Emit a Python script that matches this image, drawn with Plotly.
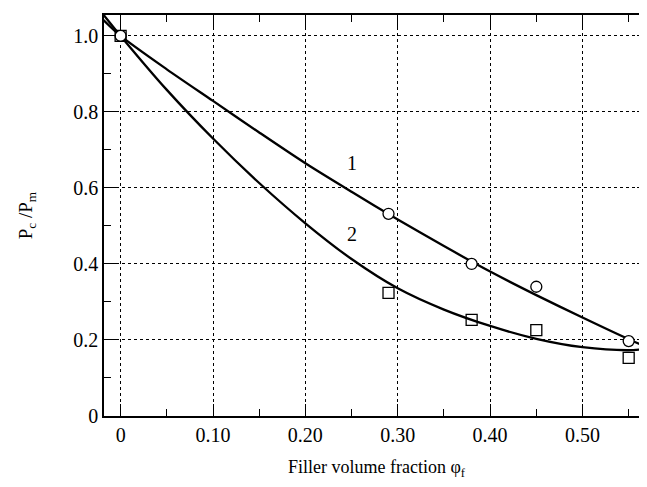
import plotly.graph_objects as go

# Data
circle_x = [0.0, 0.29, 0.38, 0.45, 0.55]
circle_y = [1.0, 0.532, 0.40, 0.34, 0.197]
square_x = [0.0, 0.29, 0.38, 0.45, 0.55]
square_y = [1.0, 0.324, 0.253, 0.226, 0.153]

curve1_x = [-0.02, 0.0, 0.05, 0.10, 0.15, 0.20, 0.25, 0.30, 0.35, 0.40, 0.45, 0.50, 0.55, 0.575]
curve1_y = [1.045, 1.0, 0.912, 0.829, 0.746, 0.665, 0.590, 0.517, 0.447, 0.380, 0.318, 0.259, 0.202, 0.176]
curve2_x = [-0.02, 0.0, 0.05, 0.10, 0.15, 0.20, 0.25, 0.30, 0.35, 0.40, 0.45, 0.50, 0.55, 0.575]
curve2_y = [1.060, 1.0, 0.858, 0.730, 0.613, 0.507, 0.413, 0.336, 0.280, 0.237, 0.203, 0.181, 0.173, 0.178]

x_tickvals = [0, 0.1, 0.2, 0.3, 0.4, 0.5]
x_ticktext = ["0", "0.10", "0.20", "0.30", "0.40", "0.50"]
y_tickvals = [0, 0.2, 0.4, 0.6, 0.8, 1.0]
y_ticktext = ["0", "0.2", "0.4", "0.6", "0.8", "1.0"]

curve_labels = ["1", "2"]
label_x = [0.25, 0.251]
label_y = [0.666, 0.48]

FONT = "Liberation Serif"

fig = go.Figure()
for cx, cy in ((curve1_x, curve1_y), (curve2_x, curve2_y)):
    fig.add_trace(go.Scatter(x=cx, y=cy, mode="lines",
                             line=dict(color="black", width=2.3, shape="spline", smoothing=0.8),
                             showlegend=False))
fig.add_trace(go.Scatter(x=circle_x, y=circle_y, mode="markers",
                         marker=dict(symbol="circle", size=11, color="white", line=dict(color="black", width=1.3)),
                         showlegend=False, cliponaxis=False))
fig.add_trace(go.Scatter(x=square_x, y=square_y, mode="markers",
                         marker=dict(symbol="square", size=11, color="rgba(255,255,255,0)", line=dict(color="black", width=1.3)),
                         showlegend=False, cliponaxis=False))

for t, lx, ly in zip(curve_labels, label_x, label_y):
    fig.add_annotation(x=lx, y=ly, text=t, showarrow=False, font=dict(family=FONT, size=20, color="black"))

axis_common = dict(
    showline=True, linecolor="black", linewidth=1.5, mirror="ticks",
    ticks="inside", ticklen=12, tickwidth=1.3, tickcolor="black",
    showgrid=True, gridcolor="black", griddash="dot", gridwidth=0.8,
    zeroline=False,
    tickfont=dict(family=FONT, size=20, color="black"),
)

fig.update_xaxes(
    range=[-0.018, 0.572], tickmode="array", tickvals=x_tickvals, ticktext=x_ticktext,
    minor=dict(ticks="inside", dtick=0.05, tick0=0, ticklen=7, tickwidth=1.3, tickcolor="black", showgrid=False),
    title=dict(text="Filler volume fraction φ<sub>f</sub>", font=dict(family=FONT, size=18, color="black"), standoff=16),
    **axis_common,
)
fig.update_yaxes(
    range=[0, 1.055], tickmode="array", tickvals=y_tickvals, ticktext=y_ticktext,
    minor=dict(ticks="inside", dtick=0.1, tick0=0, ticklen=7, tickwidth=1.3, tickcolor="black", showgrid=False),
    title=dict(text="P<sub>c</sub> /P<sub>m</sub>", font=dict(family=FONT, size=19, color="black"), standoff=36),
    **axis_common,
)

fig.update_layout(
    width=647, height=487,
    margin=dict(l=96, r=4, t=7, b=79),
    paper_bgcolor="white", plot_bgcolor="white",
    font=dict(family=FONT, color="black"),
)

fig.write_html("out.html")
